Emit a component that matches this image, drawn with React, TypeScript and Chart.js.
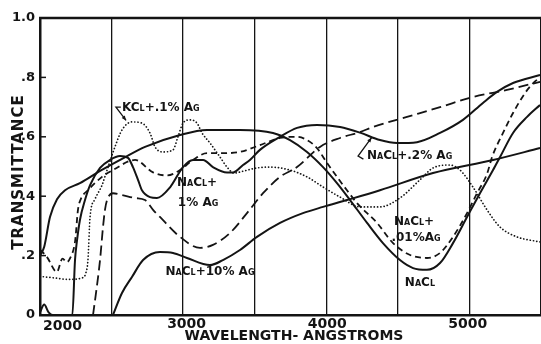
import React, { useEffect, useRef } from 'react';
import { Chart, registerables } from 'chart.js';

Chart.register(...registerables);

// Axis ticks
const xTickLabels = [2000, 3000, 4000, 5000];
const yTickValues = [0, 0.2, 0.4, 0.6, 0.8, 1.0];

// NaCl (solid)
const naclWave = [2000, 2030, 2071, 2121, 2178, 2284, 2427, 2600, 2747, 2996, 3188, 3422, 3657, 3778, 3899, 4013, 4112, 4205, 4326, 4439, 4560, 4653, 4752, 4845, 4937, 5037, 5129, 5222, 5272, 5364, 5464, 5556];
const naclTrans = [0.20, 0.23, 0.33, 0.39, 0.42, 0.444, 0.485, 0.53, 0.566, 0.606, 0.623, 0.623, 0.613, 0.589, 0.549, 0.498, 0.444, 0.387, 0.31, 0.242, 0.185, 0.158, 0.152, 0.175, 0.242, 0.33, 0.41, 0.488, 0.532, 0.613, 0.667, 0.707];

// NaCl + .01% Ag (dashed)
const na001Wave = [2000, 2050, 2120, 2160, 2190, 2215, 2250, 2270, 2290, 2341, 2441, 2519, 2676, 2804, 2903, 2996, 3088, 3188, 3301, 3422, 3564, 3707, 3828, 3899, 3970, 4041, 4112, 4183, 4254, 4397, 4511, 4632, 4752, 4845, 4937, 5037, 5108, 5179, 5215, 5293, 5364, 5449, 5506, 5556];
const na001Trans = [0.22, 0.195, 0.145, 0.19, 0.178, 0.192, 0.25, 0.354, 0.39, 0.42, 0.465, 0.488, 0.522, 0.48, 0.47, 0.488, 0.522, 0.545, 0.545, 0.549, 0.572, 0.596, 0.6, 0.589, 0.562, 0.512, 0.465, 0.42, 0.377, 0.31, 0.242, 0.202, 0.192, 0.209, 0.263, 0.343, 0.41, 0.475, 0.532, 0.613, 0.68, 0.747, 0.78, 0.80];

// NaCl + .2% Ag (solid, bumpy)
const na02Wave = [2000, 2030, 2060, 2090, 2230, 2249, 2263, 2284, 2320, 2356, 2427, 2498, 2569, 2626, 2661, 2697, 2725, 2782, 2832, 2925, 3017, 3088, 3160, 3230, 3330, 3373, 3444, 3493, 3564, 3707, 3828, 3970, 4134, 4276, 4418, 4539, 4681, 4845, 5008, 5150, 5250, 5364, 5556];
const na02Trans = [0.01, 0.035, 0.01, 0.0, 0.0, 0.185, 0.25, 0.32, 0.387, 0.437, 0.495, 0.522, 0.535, 0.529, 0.498, 0.455, 0.42, 0.397, 0.394, 0.43, 0.498, 0.522, 0.522, 0.498, 0.48, 0.48, 0.505, 0.522, 0.556, 0.6, 0.63, 0.64, 0.633, 0.614, 0.589, 0.579, 0.582, 0.613, 0.657, 0.714, 0.751, 0.781, 0.808];

// NaCl + 1% Ag (long dashed)
const na1Wave = [2377, 2400, 2427, 2448, 2462, 2477, 2519, 2583, 2676, 2747, 2804, 2853, 2996, 3138, 3230, 3351, 3472, 3586, 3707, 3828, 3991, 4134, 4276, 4368, 4610, 4845, 5079, 5321, 5556];
const na1Trans = [0.0, 0.08, 0.185, 0.296, 0.354, 0.387, 0.41, 0.404, 0.394, 0.387, 0.354, 0.33, 0.263, 0.226, 0.236, 0.276, 0.343, 0.41, 0.465, 0.498, 0.566, 0.596, 0.616, 0.633, 0.667, 0.70, 0.734, 0.758, 0.785];

// NaCl + 10% Ag (solid, lower)
const na10Wave = [2519, 2583, 2654, 2733, 2853, 2946, 3045, 3209, 3301, 3422, 3543, 3707, 3870, 4013, 4183, 4418, 4795, 5222, 5556];
const na10Trans = [0.0, 0.074, 0.128, 0.185, 0.212, 0.209, 0.192, 0.168, 0.185, 0.219, 0.263, 0.31, 0.343, 0.364, 0.387, 0.42, 0.478, 0.522, 0.562];

// KCl + .1% Ag (dotted)
const kclWave = [2000, 2100, 2200, 2300, 2325, 2341, 2356, 2391, 2441, 2477, 2533, 2583, 2654, 2725, 2782, 2818, 2875, 2946, 2981, 3017, 3067, 3117, 3152, 3209, 3280, 3330, 3380, 3450, 3543, 3636, 3778, 3899, 4013, 4134, 4276, 4418, 4560, 4702, 4795, 4916, 4987, 5079, 5179, 5272, 5392, 5556];
const kclTrans = [0.13, 0.125, 0.12, 0.125, 0.14, 0.185, 0.33, 0.39, 0.437, 0.488, 0.566, 0.623, 0.65, 0.646, 0.613, 0.566, 0.549, 0.556, 0.6, 0.646, 0.657, 0.646, 0.613, 0.579, 0.532, 0.498, 0.478, 0.485, 0.495, 0.498, 0.488, 0.465, 0.431, 0.397, 0.364, 0.364, 0.394, 0.455, 0.495, 0.505, 0.488, 0.431, 0.354, 0.296, 0.263, 0.246];

// Curve labels (anchored in data coordinates)
const labelTexts = ['KCl+.1% Ag', 'NaCl+.2% Ag', 'NaCl+', '1% Ag', 'NaCl+10% Ag', 'NaCl+', '.01%Ag', 'NaCl'];
const labelWave = [2583, 4326, 3117, 3124, 3209, 4660, 4674, 4702];
const labelTrans = [0.697, 0.535, 0.444, 0.377, 0.145, 0.313, 0.26, 0.108];
const labelAlign = ['left', 'left', 'center', 'center', 'center', 'center', 'center', 'center'];

// Leader lines
const kclLeaderWave = [2575, 2540, 2612];
const kclLeaderTrans = [0.70, 0.70, 0.655];
const na02LeaderWave = [4300, 4262, 4358];
const na02LeaderTrans = [0.525, 0.535, 0.597];

const FONT = "'DejaVu Sans', sans-serif";
const INK = '#141414';

export default function App() {
  const ref = useRef<HTMLCanvasElement>(null);

  useEffect(() => {
    const canvas = ref.current;
    if (!canvas) return;
    const pts = (w: number[], t: number[]) => w.map((x, i) => ({ x, y: t[i] }));
    const ds = (label: string, w: number[], t: number[], dash: number[], width: number, cap: any = 'butt') => ({
      label,
      data: pts(w, t),
      borderColor: INK,
      borderWidth: width,
      borderDash: dash,
      borderCapStyle: cap,
      pointRadius: 0,
      fill: false,
      cubicInterpolationMode: 'monotone' as const,
    });

    const drawLeader = (ctx: any, xs: any, ys: any, w: number[], t: number[]) => {
      ctx.beginPath();
      w.forEach((v, i) => {
        const px = xs.getPixelForValue(v);
        const py = ys.getPixelForValue(t[i]);
        if (i === 0) ctx.moveTo(px, py); else ctx.lineTo(px, py);
      });
      ctx.stroke();
      const n = w.length;
      const x1 = xs.getPixelForValue(w[n - 2]), y1 = ys.getPixelForValue(t[n - 2]);
      const x2 = xs.getPixelForValue(w[n - 1]), y2 = ys.getPixelForValue(t[n - 1]);
      const a = Math.atan2(y2 - y1, x2 - x1);
      ctx.beginPath();
      ctx.moveTo(x2, y2);
      ctx.lineTo(x2 - 5 * Math.cos(a - 0.4), y2 - 5 * Math.sin(a - 0.4));
      ctx.lineTo(x2 - 5 * Math.cos(a + 0.4), y2 - 5 * Math.sin(a + 0.4));
      ctx.closePath();
      ctx.fill();
    };

    const decor = {
      id: 'decor',
      beforeDraw(chart: any) {
        const { ctx, width, height } = chart;
        ctx.save();
        ctx.fillStyle = '#ffffff';
        ctx.fillRect(0, 0, width, height);
        ctx.restore();
      },
      afterDraw(chart: any) {
        const { ctx, chartArea, scales } = chart;
        const { left, right, top, bottom } = chartArea;
        const xs = scales.x, ys = scales.y;
        ctx.save();
        ctx.strokeStyle = INK;
        ctx.fillStyle = INK;
        // top frame line
        ctx.lineWidth = 2.5;
        ctx.beginPath();
        ctx.moveTo(left - 1, top);
        ctx.lineTo(right, top);
        ctx.stroke();
        // inner y ticks
        ctx.lineWidth = 1.5;
        yTickValues.forEach((v) => {
          if (v > 0 && v < 1) {
            const py = ys.getPixelForValue(v);
            ctx.beginPath();
            ctx.moveTo(left, py);
            ctx.lineTo(left + 6, py);
            ctx.stroke();
          }
        });
        // x tick labels
        ctx.font = `bold 14px ${FONT}`;
        ctx.textBaseline = 'middle';
        xTickLabels.forEach((v, i) => {
          const px = xs.getPixelForValue(v);
          if (i === 0) {
            ctx.textAlign = 'left';
            ctx.fillText(String(v), px + 3, bottom + 11);
          } else {
            ctx.textAlign = 'center';
            ctx.fillText(String(v), px + 6, bottom + 9);
          }
        });
        // axis titles
        ctx.textAlign = 'center';
        ctx.font = `bold 14px ${FONT}`;
        ctx.fillText('WAVELENGTH- ANGSTROMS', 294, bottom + 21);
        ctx.save();
        ctx.translate(19, 172);
        ctx.rotate(-Math.PI / 2);
        ctx.font = `bold 15px ${FONT}`;
        (ctx as any).letterSpacing = '1px';
        ctx.fillText('TRANSMITTANCE', 0, 0);
        ctx.restore();
        // curve labels
        ctx.font = `small-caps bold 12px ${FONT}`;
        ctx.textBaseline = 'middle';
        labelTexts.forEach((txt, i) => {
          ctx.textAlign = labelAlign[i];
          ctx.fillText(txt, xs.getPixelForValue(labelWave[i]), ys.getPixelForValue(labelTrans[i]));
        });
        // leaders
        ctx.lineWidth = 1.3;
        drawLeader(ctx, xs, ys, kclLeaderWave, kclLeaderTrans);
        drawLeader(ctx, xs, ys, na02LeaderWave, na02LeaderTrans);
        ctx.restore();
      },
    };

    const chart = new Chart(canvas, {
      type: 'line',
      data: {
        datasets: [
          ds('NaCl', naclWave, naclTrans, [], 2),
          ds('NaCl+.01% Ag', na001Wave, na001Trans, [6, 4], 1.8),
          ds('NaCl+.2% Ag', na02Wave, na02Trans, [], 2),
          ds('NaCl+1% Ag', na1Wave, na1Trans, [10, 5], 1.8),
          ds('NaCl+10% Ag', na10Wave, na10Trans, [], 2),
          ds('KCl+.1% Ag', kclWave, kclTrans, [0.1, 3.2], 1.7, 'round'),
        ] as any,
      },
      options: {
        responsive: false,
        animation: false,
        devicePixelRatio: 1,
        layout: { padding: { top: 18, right: 0, left: 0, bottom: 0 } },
        plugins: { legend: { display: false }, tooltip: { enabled: false }, title: { display: false } },
        scales: {
          x: {
            type: 'linear',
            min: 2000,
            max: 5563,
            ticks: { stepSize: 500, includeBounds: false, display: false },
            grid: { color: INK, lineWidth: 1.3, drawTicks: false },
            border: { display: true, color: INK, width: 2.5 },
            afterFit: (s: any) => { s.height = 29; },
          },
          y: {
            type: 'linear',
            min: 0,
            max: 1,
            ticks: {
              stepSize: 0.2,
              padding: 5,
              color: INK,
              font: { family: FONT, size: 13, weight: 'bold' },
              callback: (v: any) => (v === 0 ? '0' : v === 1 ? '1.0' : '.' + Math.round(v * 10)),
            },
            grid: { display: false, drawTicks: false },
            border: { display: true, color: INK, width: 2.5 },
            afterFit: (s: any) => { s.width = 40; },
          },
        },
      },
      plugins: [decor],
    } as any);

    return () => chart.destroy();
  }, []);

  return (
    <div style={{ position: 'fixed', left: 0, top: 0, width: 541, height: 344 }}>
      <canvas ref={ref} width={541} height={344} style={{ display: 'block' }} />
    </div>
  );
}
